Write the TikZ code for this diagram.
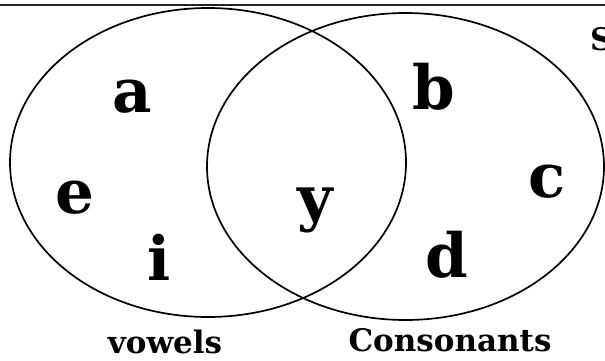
\documentclass[tikz,border=0pt]{standalone}
\usepackage{fontspec}
\setmainfont{DejaVu Serif}
\usepackage{tikz}

\tikzset{
    letter/.style={anchor=base, inner sep=0pt, font=\bfseries\fontsize{61}{61}\selectfont},
    setlabel/.style={anchor=base, inner sep=0pt, font=\bfseries\fontsize{31}{31}\selectfont}
}

\begin{document}
\begin{tikzpicture}[x=1pt, y=1pt]
    \useasboundingbox (0,0) rectangle (605,360);

    % frame line on top
    \draw[line width=2pt, black!85] (0,355) -- (605,355);

    % the two sets
    \draw[line width=1.7pt] (208,197.5) ellipse [x radius=198, y radius=154.5];
    \draw[line width=1.7pt] (405.5,193.5) ellipse [x radius=198.5, y radius=153.5];

    % elements
    \node[letter] (a) at (132,248) {a};
    \node[letter] (e) at (75,147) {e};
    \node[letter] (i) at (159,80) {i};
    \node[letter] (y) at (315,141) {y};
    \node[letter] (b) at (434,251) {b};
    \node[letter] (c) at (547,163) {c};
    \node[letter] (d) at (447,83) {d};

    % labels
    \node[setlabel, anchor=base west] (univ) at (590,310) {S};
    \node[setlabel] (vowels) at (165,7) {vowels};
    \node[setlabel] (consonants) at (450,9) {Consonants};
\end{tikzpicture}
\end{document}
